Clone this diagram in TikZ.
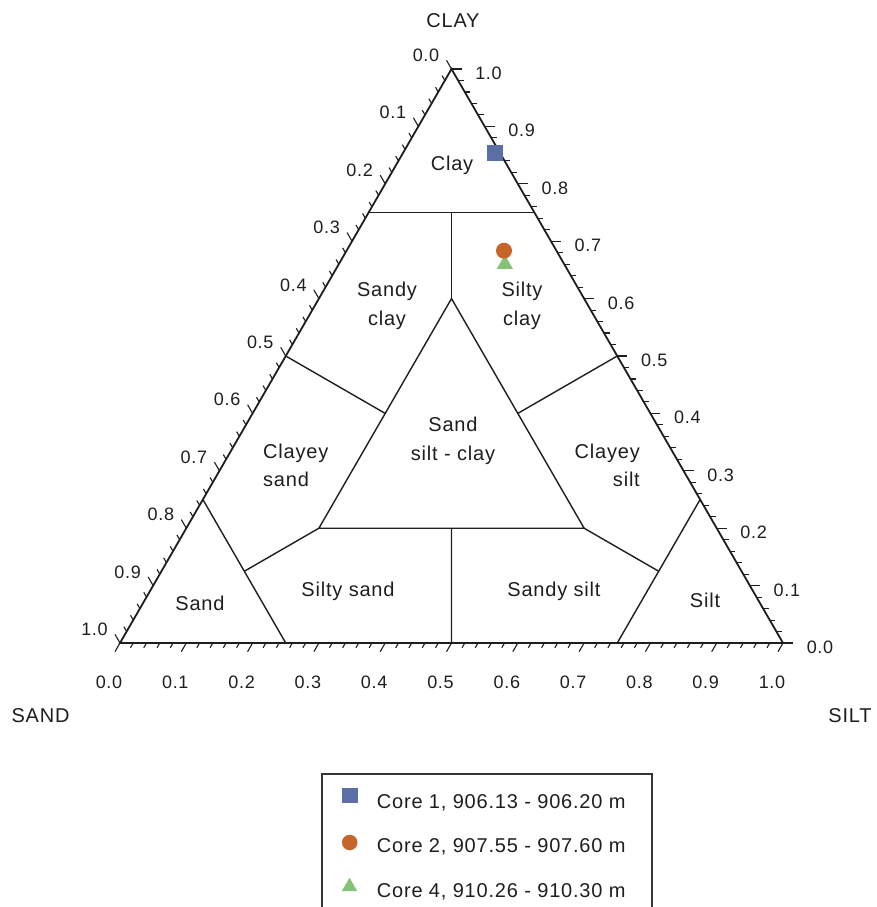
\documentclass[tikz,border=0pt]{standalone}
\usepackage{fontspec}
\setmainfont{Liberation Sans}[LetterSpace=4]
\usetikzlibrary{calc,shapes.geometric}
\definecolor{cblue}{HTML}{5B6FA6}
\definecolor{corange}{HTML}{C6652A}
\definecolor{cgreen}{HTML}{84C27A}
\definecolor{ink}{HTML}{1E1E1E}
\begin{document}
\begin{tikzpicture}[x=1pt,y=-1pt,
  outline/.style={line width=1.8pt, draw=ink, line join=miter},
  divline/.style={line width=1.4pt, draw=ink},
  tickline/.style={line width=1.1pt, draw=ink},
  lab/.style={font=\fontsize{20}{28.5}\selectfont, inner sep=0pt, text=ink},
  ticklab/.style={font=\fontsize{18}{20}\selectfont, inner sep=0pt, anchor=base, text=ink},
  axlab/.style={font=\fontsize{20}{24}\selectfont, inner sep=0pt, anchor=base, text=ink},
  sqmark/.style={rectangle, fill=cblue, minimum size=16pt, inner sep=0pt},
  cimark/.style={circle, fill=corange, minimum size=16pt, inner sep=0pt},
  trmark/.style={isosceles triangle, isosceles triangle apex angle=60, shape border rotate=90, fill=cgreen, minimum height=14pt, inner sep=0pt}
]
\useasboundingbox (0,0) rectangle (877,907);
\coordinate (A) at (120,643);
\coordinate (B) at (783,643);
\coordinate (C) at (451.5,69);

% division points
\coordinate (c75L) at (barycentric cs:A=0.25,B=0,C=0.75);
\coordinate (c75R) at (barycentric cs:A=0,B=0.25,C=0.75);
\coordinate (c75M) at (barycentric cs:A=0.125,B=0.125,C=0.75);
\coordinate (T1) at (barycentric cs:A=0.2,B=0.2,C=0.6);
\coordinate (T2) at (barycentric cs:A=0.6,B=0.2,C=0.2);
\coordinate (T3) at (barycentric cs:A=0.2,B=0.6,C=0.2);
\coordinate (L50) at (barycentric cs:A=0.5,B=0,C=0.5);
\coordinate (R50) at (barycentric cs:A=0,B=0.5,C=0.5);
\coordinate (T12) at (barycentric cs:A=0.4,B=0.2,C=0.4);
\coordinate (T13) at (barycentric cs:A=0.2,B=0.4,C=0.4);
\coordinate (SA1) at (barycentric cs:A=0.75,B=0,C=0.25);
\coordinate (SA2) at (barycentric cs:A=0.75,B=0.25,C=0);
\coordinate (SA3) at (barycentric cs:A=0.75,B=0.125,C=0.125);
\coordinate (SI1) at (barycentric cs:A=0,B=0.75,C=0.25);
\coordinate (SI2) at (barycentric cs:A=0.25,B=0.75,C=0);
\coordinate (SI3) at (barycentric cs:A=0.125,B=0.75,C=0.125);
\coordinate (M0) at (barycentric cs:A=0.5,B=0.5,C=0);
\coordinate (M2) at (barycentric cs:A=0.4,B=0.4,C=0.2);

\draw[divline] (c75L) -- (c75R);
\draw[divline] (c75M) -- (T1);
\draw[divline, line join=miter] (T1) -- (T2) -- (T3) -- cycle;
\draw[divline] (L50) -- (T12);
\draw[divline] (R50) -- (T13);
\draw[divline] (SA1) -- (SA2);
\draw[divline] (SA3) -- (T2);
\draw[divline] (SI1) -- (SI2);
\draw[divline] (SI3) -- (T3);
\draw[divline] (M2) -- (M0);

% ticks
\foreach \i in {0,...,50}{
  \pgfmathsetmacro\f{\i/50}
  \pgfmathsetmacro\g{1-\f}
  \pgfmathsetmacro\len{ifthenelse(mod(\i,5)==0,10,5.5)}
  \draw[tickline] (barycentric cs:A=\g,B=\f,C=0) -- ++(-0.5*\len,0.866*\len);
  \draw[tickline] (barycentric cs:A=0,B=\g,C=\f) -- ++(\len,0);
  \draw[tickline] (barycentric cs:A=\f,B=0,C=\g) -- ++(-0.5*\len,-0.866*\len);
}

\draw[outline] (A) -- (B) -- (C) -- cycle;

% tick labels
\foreach \k/\t in {0/0.0,1/0.1,2/0.2,3/0.3,4/0.4,5/0.5,6/0.6,7/0.7,8/0.8,9/0.9,10/1.0}{
  \pgfmathsetmacro\f{\k/10}
  \pgfmathsetmacro\g{1-\f}
  \node[ticklab] (bl\k) at ($(barycentric cs:A=\g,B=\f,C=0)+(-11,45.3)$) {\t};
  \node[ticklab] (rl\k) at ($(barycentric cs:A=0,B=\g,C=\f)+(37,10.5)$) {\t};
  \node[ticklab] (ll\k) at ($(barycentric cs:A=\f,B=0,C=\g)+(-25.5,-7.5)$) {\t};
}

% axis labels
\node[axlab] (clayax) at (453,27.3) {CLAY};
\node[axlab] (sandax) at (40.5,722.7) {SAND};
\node[axlab] (siltax) at (850,722.7) {SILT};

% region labels
\node[lab, anchor=base] (rclay) at (452,170) {Clay};
\node[lab, anchor=north, align=center] (rsandyclay) at (387,282.1) {Sandy\\clay};
\node[lab, anchor=north, align=center] (rsiltyclay) at (522,282.1) {Silty\\clay};
\node[lab, anchor=north, align=center] (rssc) at (453,417.1) {Sand\\silt - clay};
\node[lab, anchor=north west, align=left] (rclayeysand) at (263,443.4) {Clayey\\sand};
\node[lab, anchor=north east, align=right] (rclayeysilt) at (640,443.4) {Clayey\\silt};
\node[lab, anchor=base] (rsand) at (200,610.5) {Sand};
\node[lab, anchor=base] (rsiltysand) at (348,596) {Silty sand};
\node[lab, anchor=base] (rsandysilt) at (554,596) {Sandy silt};
\node[lab, anchor=base] (rsilt) at (705,607) {Silt};

% data points
\node[sqmark] (p1) at (494.7,152.8) {};
\node[trmark] (p4) at (504.8,264.2) {};
\node[cimark] (p2) at (504,250.7) {};

% legend
\draw[line width=1.5pt, draw=ink!90] (322,930) -- (322,774) -- (652,774) -- (652,930);
\node[sqmark, minimum width=16pt, minimum height=15pt] (k1) at (350,795.8) {};
\node[cimark, minimum size=15.5pt] (k2) at (349.7,842.5) {};
\node[trmark, minimum height=13.3pt] (k4) at (349.5,886.6) {};
\node[lab, anchor=base west] (t1) at (376.7,808.3) {Core 1, 906.13 - 906.20 m};
\node[lab, anchor=base west] (t2) at (376.7,852.5) {Core 2, 907.55 - 907.60 m};
\node[lab, anchor=base west] (t4) at (376.7,897.7) {Core 4, 910.26 - 910.30 m};
\end{tikzpicture}
\end{document}
